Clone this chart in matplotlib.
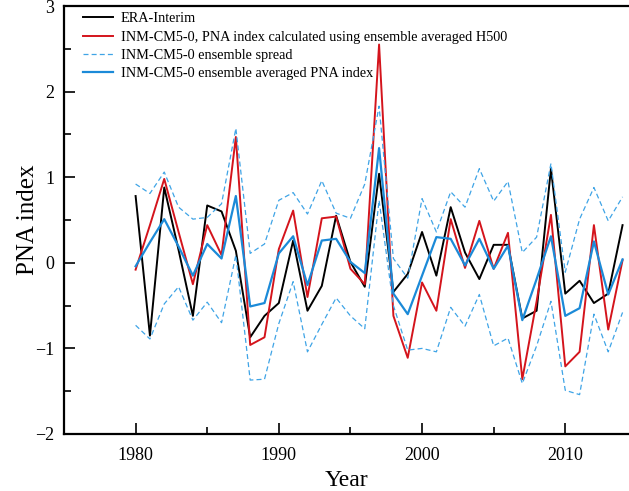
import matplotlib
matplotlib.use('Agg')
import matplotlib.pyplot as plt
import numpy as np
from matplotlib.ticker import MultipleLocator

plt.rcParams['font.family'] = ['Liberation Serif', 'DejaVu Serif']

years = np.arange(1980, 2015)

era = [0.78, -0.85, 0.88, 0.15, -0.62, 0.67, 0.60, 0.14, -0.87, -0.62,
       -0.47, 0.26, -0.56, -0.27, 0.55, 0.01, -0.28, 1.04, -0.34, -0.13,
       0.36, -0.15, 0.65, 0.12, -0.19, 0.21, 0.21, -0.65, -0.56, 1.10,
       -0.36, -0.21, -0.47, -0.36, 0.44]

inm_h500 = [-0.08, 0.44, 0.98, 0.36, -0.25, 0.44, 0.09, 1.47, -0.96, -0.87,
            0.16, 0.61, -0.40, 0.52, 0.54, -0.07, -0.25, 2.55, -0.62, -1.11,
            -0.23, -0.56, 0.51, -0.06, 0.49, -0.07, 0.35, -1.36, -0.45, 0.56,
            -1.21, -1.04, 0.44, -0.78, 0.03]

ens_mean = [-0.04, 0.24, 0.51, 0.19, -0.15, 0.22, 0.05, 0.78, -0.51, -0.47,
            0.11, 0.31, -0.26, 0.26, 0.28, 0.01, -0.12, 1.34, -0.36, -0.60,
            -0.15, 0.30, 0.28, -0.03, 0.28, -0.07, 0.20, -0.67, -0.19, 0.31,
            -0.62, -0.53, 0.25, -0.37, 0.04]

spread_hi = [0.92, 0.81, 1.06, 0.65, 0.51, 0.53, 0.69, 1.57, 0.11, 0.22,
             0.73, 0.82, 0.57, 0.96, 0.58, 0.52, 0.92, 1.83, 0.05, -0.18,
             0.75, 0.36, 0.83, 0.65, 1.10, 0.72, 0.95, 0.12, 0.30, 1.16,
             -0.11, 0.51, 0.88, 0.49, 0.77]

spread_lo = [-0.73, -0.89, -0.48, -0.28, -0.67, -0.46, -0.70, 0.09, -1.37, -1.36,
             -0.71, -0.22, -1.04, -0.72, -0.41, -0.62, -0.77, 0.73, -0.50, -1.02,
             -1.00, -1.04, -0.52, -0.74, -0.37, -0.97, -0.88, -1.41, -0.97, -0.45,
             -1.49, -1.54, -0.60, -1.04, -0.58]

fig = plt.figure(figsize=(6.29, 4.91), dpi=100)
ax = fig.add_axes([64 / 629, 57 / 491, 1 - 64 / 629, 428 / 491])

ax.plot(years, era, color='black', lw=1.4, label='ERA-Interim')
ax.plot(years, inm_h500, color='#d4141c', lw=1.4,
        label='INM-CM5-0, PNA index calculated using ensemble averaged H500')
ax.plot(years, spread_hi, color='#3fa4e6', lw=0.9, ls=(0, (4, 2.5)),
        label='INM-CM5-0 ensemble spread')
ax.plot(years, spread_lo, color='#3fa4e6', lw=0.9, ls=(0, (4, 2.5)))
ax.plot(years, ens_mean, color='#1b8ad8', lw=1.6,
        label='INM-CM5-0 ensemble averaged PNA index')

ax.set_xlim(1975, 2014.45)
ax.set_ylim(-2, 3)
ax.xaxis.set_major_locator(MultipleLocator(10))
ax.xaxis.set_minor_locator(MultipleLocator(5))
ax.yaxis.set_major_locator(MultipleLocator(1))
ax.yaxis.set_minor_locator(MultipleLocator(0.5))
ax.tick_params(which='both', direction='in', width=1.2, labelsize=13,
               top=False, right=False)
ax.tick_params(which='major', length=8)
ax.tick_params(which='minor', length=5)
ax.tick_params(axis='x', pad=9)
ax.tick_params(axis='y', pad=7)
ax.yaxis.set_major_formatter(plt.FuncFormatter(
    lambda v, p: ('\u2212' if v < 0 else '') + '%d' % abs(v)))

for s in ['left', 'bottom', 'top']:
    ax.spines[s].set_linewidth(1.6)
ax.spines['right'].set_visible(False)

ax.set_xlabel('Year', fontsize=17, labelpad=5)
ax.set_ylabel('PNA index', fontsize=18, labelpad=-3)

ax.legend(loc='upper left', bbox_to_anchor=(13 / 565, 1.0), frameon=False,
          fontsize=10.3, handlelength=2.1, labelspacing=0.36,
          borderaxespad=0.15, borderpad=0.3, handletextpad=0.5)

fig.savefig('out.png', dpi=100)
